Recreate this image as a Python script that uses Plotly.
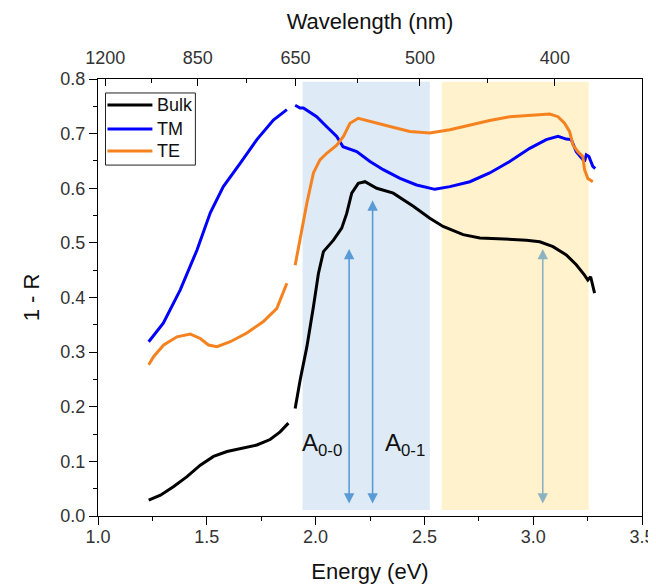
import plotly.graph_objects as go

# ---------------- data ----------------
bulk_E = [1.233, 1.287, 1.348, 1.409, 1.47, 1.531, 1.593, 1.654, 1.73, 1.791, 1.837, 1.875, None,
          1.906, 1.929, 1.96, 1.975, 1.99, 2.013, 2.036, 2.082, 2.12, 2.143, 2.166, 2.196, 2.227,
          2.281, 2.357, 2.449, 2.525, 2.586, 2.678, 2.755, 2.862, 2.969, 3.03, 3.091, 3.152,
          3.198, 3.236, 3.251, 3.264, 3.272, 3.282]
bulk_R = [0.029, 0.038, 0.054, 0.072, 0.093, 0.109, 0.118, 0.123, 0.130, 0.140, 0.154, 0.170, None,
          0.197, 0.249, 0.310, 0.345, 0.383, 0.444, 0.484, 0.505, 0.527, 0.554, 0.591, 0.609, 0.612,
          0.600, 0.591, 0.567, 0.545, 0.530, 0.515, 0.509, 0.507, 0.505, 0.502, 0.493, 0.478,
          0.460, 0.441, 0.432, 0.438, 0.425, 0.408]

tm_E = [1.233, 1.30, 1.378, 1.455, 1.516, 1.576, 1.654, 1.73, 1.806, 1.868, None,
        1.906, 1.929, 1.944, 2.005, 2.05, 2.097, 2.126, 2.189, 2.25, 2.311, 2.388, 2.464, 2.548,
        2.617, 2.709, 2.80, 2.892, 2.984, 3.06, 3.114, 3.152, 3.175, 3.198, 3.221, 3.236,
        3.244, 3.256, 3.274, 3.285]
tm_R = [0.319, 0.353, 0.414, 0.487, 0.555, 0.603, 0.646, 0.689, 0.725, 0.744, None,
        0.752, 0.747, 0.747, 0.731, 0.713, 0.695, 0.676, 0.667, 0.649, 0.634, 0.618, 0.606, 0.598,
        0.603, 0.612, 0.628, 0.649, 0.673, 0.689, 0.695, 0.690, 0.689, 0.667, 0.655, 0.649,
        0.661, 0.658, 0.640, 0.636]

te_E = [1.233, 1.256, 1.302, 1.363, 1.424, 1.47, 1.508, 1.547, 1.608, 1.684, 1.76, 1.822, 1.868, None,
        1.906, 1.929, 1.96, 1.99, 2.02, 2.051, 2.097, 2.128, 2.158, 2.196, 2.25, 2.342, 2.433,
        2.525, 2.617, 2.709, 2.80, 2.892, 2.984, 3.076, 3.114, 3.144, 3.167, 3.183, 3.205,
        3.228, 3.236, 3.251, 3.274]
te_R = [0.277, 0.292, 0.313, 0.328, 0.333, 0.325, 0.313, 0.310, 0.319, 0.335, 0.356, 0.380, 0.426, None,
        0.459, 0.510, 0.573, 0.628, 0.652, 0.664, 0.679, 0.695, 0.719, 0.728, 0.722, 0.713, 0.704,
        0.701, 0.707, 0.716, 0.724, 0.731, 0.734, 0.736, 0.731, 0.719, 0.704, 0.679, 0.667,
        0.658, 0.634, 0.618, 0.612]

series_names = ["Bulk", "TM", "TE"]
series_colors = ["#000000", "#0000ff", "#f5821f"]

wavelength_ticks = [1200, 850, 650, 500, 400]  # nm

# shaded bands (energy ranges, eV)
band_blue = [1.94, 2.525]
band_yellow = [2.58, 3.255]

# double-headed arrows
arrow_E = [2.154, 2.262, 3.044]
arrow_top = [0.489, 0.578, 0.489]
arrow_bottom = 0.02
arrow_colors = ["#5b9bd5", "#5b9bd5", "#8db3c3"]

labels_text = ["A<sub>0-0</sub>", "A<sub>0-1</sub>"]
labels_E = [2.03, 2.41]
labels_R = [0.13, 0.13]

# ---------------- figure ----------------
FONT = "Liberation Sans, Arial, sans-serif"
fig = go.Figure()

for E, R, name, col in zip([bulk_E, tm_E, te_E], [bulk_R, tm_R, te_R], series_names, series_colors):
    fig.add_trace(go.Scatter(x=E, y=R, mode="lines", name=name, showlegend=False,
                             line=dict(color=col, width=3), connectgaps=False))

# dummy trace to activate top axis
fig.add_trace(go.Scatter(x=[1, 3.5], y=[None, None], xaxis="x2", showlegend=False,
                         hoverinfo="skip", mode="lines"))

fig.add_shape(type="rect", xref="x", yref="y", x0=band_blue[0], x1=band_blue[1],
              y0=0.011, y1=0.795, fillcolor="#deebf7", line_width=0, layer="below")
fig.add_shape(type="rect", xref="x", yref="y", x0=band_yellow[0], x1=band_yellow[1],
              y0=0.011, y1=0.795, fillcolor="#fff2cc", line_width=0, layer="below")

for e, top, ac in zip(arrow_E, arrow_top, arrow_colors):
    fig.add_annotation(x=e, y=top, ax=e, ay=arrow_bottom, xref="x", yref="y",
                       axref="x", ayref="y", text="", showarrow=True,
                       arrowhead=2, startarrowhead=2, arrowside="end+start",
                       arrowsize=1.3, startarrowsize=1.3, arrowwidth=1.6,
                       arrowcolor=ac, standoff=0, startstandoff=0)

for t, e, r in zip(labels_text, labels_E, labels_R):
    fig.add_annotation(x=e, y=r, xref="x", yref="y", text=t, showarrow=False,
                       font=dict(family=FONT, size=24, color="#111111"))

# legend box (drawn in paper coordinates)
fig.add_shape(type="rect", xref="paper", yref="paper", x0=0.0138, x1=0.179, y0=0.803, y1=0.968,
              line=dict(color="#222222", width=1), fillcolor="white", layer="above")
legend_y = [0.9405, 0.8856, 0.835]
for name, col, ly in zip(series_names, series_colors, legend_y):
    fig.add_shape(type="line", xref="paper", yref="paper", x0=0.0174, x1=0.100, y0=ly, y1=ly,
                  line=dict(color=col, width=3), layer="above")
    fig.add_annotation(x=0.1056, y=ly, xref="paper", yref="paper", text=name, showarrow=False,
                       xanchor="left", yanchor="middle",
                       font=dict(family=FONT, size=18, color="#111111"))

wl_vals = [1239.84 / w for w in wavelength_ticks]
wl_minor = [(a + b) / 2 for a, b in zip(wl_vals[:-1], wl_vals[1:])]

tickfont = dict(family=FONT, size=18, color="#333333")
titlefont = dict(family=FONT, size=22, color="#111111")

# page has an 8px body margin: figure is 648x576 and offset by 8px
fig.update_layout(
    width=648, height=576,
    margin=dict(l=89.5, r=14, t=71, b=68),
    paper_bgcolor="white", plot_bgcolor="white",
    showlegend=False,
    xaxis=dict(range=[1, 3.5], dtick=0.5, tick0=1, tickformat=".1f", automargin=False,
               showgrid=False, zeroline=False, showline=True, linecolor="black", linewidth=1,
               ticks="outside", ticklen=8, tickcolor="black", ticklabelstandoff=-4,
               minor=dict(dtick=0.25, tick0=1, ticks="outside", ticklen=4, tickcolor="black"),
               tickfont=tickfont,
               title=dict(text="Energy (eV)", font=titlefont, standoff=20)),
    xaxis2=dict(range=[1, 3.5], overlaying="x", side="top", anchor="y", automargin=False,
                tickmode="array", tickvals=wl_vals, ticktext=[str(w) for w in wavelength_ticks],
                showgrid=False, zeroline=False, showline=True, linecolor="black", linewidth=1,
                ticks="inside", ticklen=7, tickcolor="black", ticklabelstandoff=7,
                minor=dict(tickmode="array", tickvals=wl_minor, ticks="inside", ticklen=4,
                           tickcolor="black"),
                tickfont=tickfont,
                title=dict(text="Wavelength (nm)", font=titlefont, standoff=12)),
    yaxis=dict(range=[0, 0.8], dtick=0.1, tick0=0, tickformat=".1f", automargin=False,
               showgrid=False, zeroline=False, showline=True, linecolor="black", linewidth=1,
               mirror=True,
               ticks="outside", ticklen=8, tickcolor="black",
               minor=dict(dtick=0.05, ticks="outside", ticklen=4, tickcolor="black"),
               tickfont=tickfont,
               title=dict(text="1 - R", font=titlefont, standoff=14)),
)

fig.write_html("out.html")
